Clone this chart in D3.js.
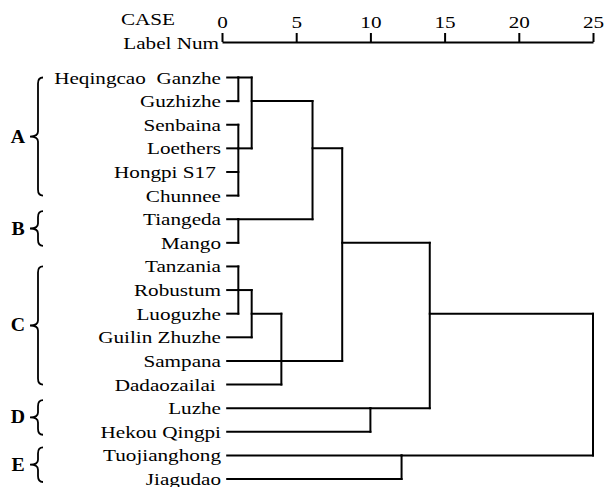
<!DOCTYPE html>
<html><head>
<meta charset="utf-8">
<script src="https://d3js.org/d3.v7.min.js"></script>
<style>
  body { margin: 0; background: #fff; }
  text { font-family: "Liberation Serif", "Times New Roman", serif; fill: #000; white-space: pre; }
</style>
</head>
<body>
<svg id="chart" width="604" height="487"></svg>
<script>
// leaves in display order (top to bottom)
const leaves = ["Heqingcao  Ganzhe", "Guzhizhe", "Senbaina", "Loethers", "Hongpi S17 ", "Chunnee",
  "Tiangeda", "Mango", "Tanzania", "Robustum", "Luoguzhe", "Guilin Zhuzhe", "Sampana",
  "Dadaozailai ", "Luzhe", "Hekou Qingpi", "Tuojianghong", "Jiagudao"];

// groups and the leaves they cover
const groups = ["A", "B", "C", "D", "E"];
const groupFirst = [0, 6, 8, 14, 16];
const groupLast = [5, 7, 13, 15, 17];

// merges: rescaled distance, children (L = leaf, M = merge), row where the result continues
const mergeHeight = [1.1, 1.1, 2.0, 1.1, 6.1, 1.1, 2.0, 4.0, 8.1, 10.0, 14.0, 12.1, 25.0];
const mergeChildren = [
  ["L0", "L1"],
  ["L2", "L3", "L4", "L5"],
  ["M0", "M1"],
  ["L6", "L7"],
  ["M2", "M3"],
  ["L8", "L9", "L10"],
  ["M5", "L11"],
  ["M6", "L12", "L13"],
  ["M4", "M7"],
  ["L14", "L15"],
  ["M8", "M9"],
  ["L16", "L17"],
  ["M10", "M11"]
];
const mergeRow = [0, 3, 1, 6, 3, 9, 10, 12, 7, 14, 10, 16, null];

const axisTicks = [0, 5, 10, 15, 20, 25];
const leafStart = 0.35;

const svg = d3.select("#chart");
const fs = 17.5, sx = 1.21;

const x = d3.scaleLinear().domain([0, 25]).range([222, 593]);
const y = d3.scaleLinear().domain([0, 17]).range([77.5, 479]);

// axis
const axis = d3.axisTop(x).tickValues(axisTicks).tickFormat(d3.format("d"))
  .tickSize(9).tickSizeOuter(0).tickPadding(5);
const ag = svg.append("g").attr("transform", "translate(0,42)").call(axis);
ag.select(".domain").attr("stroke", "#000").attr("stroke-width", 2);
ag.selectAll(".tick line").attr("stroke", "#000").attr("stroke-width", 2);
ag.selectAll(".tick text")
  .attr("font-size", fs)
  .attr("fill", "#000")
  .attr("transform", `scale(${sx},1)`);

svg.append("text").attr("text-anchor", "middle").attr("font-size", fs)
  .attr("transform", `translate(148,25) scale(${sx},1)`).text("CASE");
svg.append("text").attr("text-anchor", "end").attr("font-size", fs)
  .attr("transform", `translate(219,49) scale(${sx},1)`).text("Label Num");

// leaf labels
leaves.forEach((name, i) => {
  svg.append("text")
    .attr("text-anchor", "end")
    .attr("font-size", fs)
    .attr("transform", `translate(221,${y(i) + 6}) scale(${sx},1)`)
    .text(name);
});

// dendrogram lines
const lines = svg.append("g").attr("stroke", "#000").attr("stroke-width", 2)
  .attr("fill", "none").attr("stroke-linecap", "square");

function childInfo(c) {
  const idx = +c.slice(1);
  if (c[0] === "L") return { row: idx, from: leafStart };
  return { row: mergeRow[idx], from: mergeHeight[idx] };
}

mergeChildren.forEach((kids, m) => {
  const h = mergeHeight[m];
  const info = kids.map(childInfo);
  info.forEach(k => {
    lines.append("line")
      .attr("x1", x(k.from)).attr("x2", x(h))
      .attr("y1", y(k.row)).attr("y2", y(k.row));
  });
  const rows = info.map(k => k.row);
  lines.append("line")
    .attr("x1", x(h)).attr("x2", x(h))
    .attr("y1", y(d3.min(rows))).attr("y2", y(d3.max(rows)));
});

// group braces
function bracePath(xr, top, bot) {
  const mid = (top + bot) / 2;
  const xm = xr - 5, xt = xr - 13;
  return `M${xr},${top} Q${xm},${top} ${xm},${top + 6} L${xm},${mid - 5} Q${xm},${mid} ${xt},${mid}` +
    ` Q${xm},${mid} ${xm},${mid + 5} L${xm},${bot - 6} Q${xm},${bot} ${xr},${bot}`;
}

groups.forEach((g, i) => {
  let top = y(groupFirst[i]), bot = y(groupLast[i]);
  if (bot - top < 40) { top -= 8; bot += 3; }
  svg.append("path")
    .attr("d", bracePath(43, top, bot))
    .attr("fill", "none").attr("stroke", "#000").attr("stroke-width", 1.8);
  svg.append("text")
    .attr("text-anchor", "middle")
    .attr("font-size", 18)
    .attr("font-weight", "bold")
    .attr("transform", `translate(18,${(top + bot) / 2 + 6}) scale(1.1,1)`)
    .text(g);
});
</script>
</body>
</html>
